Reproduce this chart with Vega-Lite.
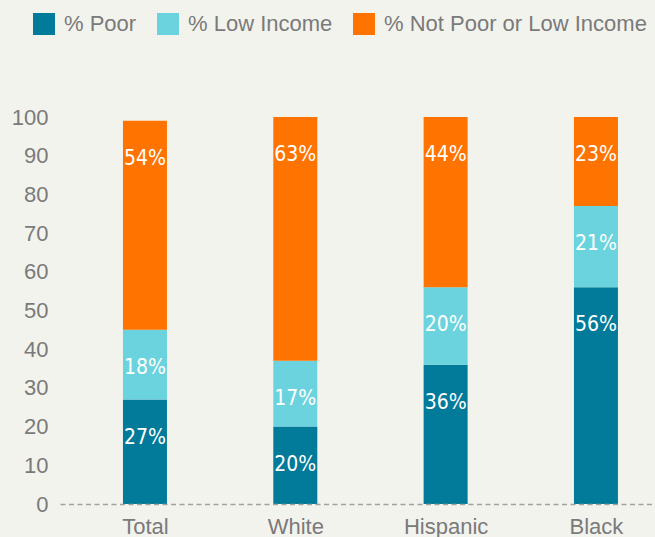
{
  "$schema": "https://vega.github.io/schema/vega-lite/v6.json",
  "width": 595,
  "height": 387,
  "autosize": {"type": "none"},
  "padding": {"left": 60, "top": 117, "right": 0, "bottom": 33},
  "background": "#f3f3ee",
  "config": {"view": {"stroke": null}, "font": "Liberation Sans"},
  "data": {
    "values": [
      {"group": "Total", "category": "% Poor", "value": 27},
      {"group": "Total", "category": "% Low Income", "value": 18},
      {"group": "Total", "category": "% Not Poor or Low Income", "value": 54},
      {"group": "White", "category": "% Poor", "value": 20},
      {"group": "White", "category": "% Low Income", "value": 17},
      {"group": "White", "category": "% Not Poor or Low Income", "value": 63},
      {"group": "Hispanic", "category": "% Poor", "value": 36},
      {"group": "Hispanic", "category": "% Low Income", "value": 20},
      {"group": "Hispanic", "category": "% Not Poor or Low Income", "value": 44},
      {"group": "Black", "category": "% Poor", "value": 56},
      {"group": "Black", "category": "% Low Income", "value": 21},
      {"group": "Black", "category": "% Not Poor or Low Income", "value": 23}
    ]
  },
  "transform": [
    {"calculate": "indexof(['% Poor','% Low Income','% Not Poor or Low Income'], datum.category)", "as": "ord"},
    {"calculate": "datum.value + '%'", "as": "label"},
    {"stack": "value", "groupby": ["group"], "sort": [{"field": "ord", "order": "ascending"}], "as": ["v0", "v1"]}
  ],
  "encoding": {
    "x": {
      "field": "group",
      "type": "nominal",
      "sort": ["Total", "White", "Hispanic", "Black"],
      "scale": {"type": "point", "padding": 0.479, "align": 0.59},
      "axis": {
        "title": null,
        "labelAngle": 0,
        "labelFontSize": 22,
        "labelColor": "#7a7a7a",
        "labelPadding": 12,
        "ticks": false,
        "domainColor": "#a0a0a0",
        "domainWidth": 1.6,
        "domainDash": [5, 3.5],
        "zindex": 1
      }
    },
    "y": {
      "field": "v1",
      "type": "quantitative",
      "scale": {"domain": [0, 100], "nice": false},
      "axis": {
        "title": null,
        "values": [0, 10, 20, 30, 40, 50, 60, 70, 80, 90, 100],
        "labelOverlap": false,
        "labelFontSize": 22,
        "labelColor": "#7a7a7a",
        "labelPadding": 12,
        "ticks": false,
        "domain": false,
        "grid": false
      }
    }
  },
  "layer": [
    {
      "mark": {"type": "bar", "size": 44},
      "encoding": {
        "y2": {"field": "v0"},
        "color": {
          "field": "category",
          "type": "nominal",
          "scale": {
            "domain": ["% Poor", "% Low Income", "% Not Poor or Low Income"],
            "range": ["#027a99", "#6bd3dd", "#ff7400"]
          },
          "legend": {
            "title": null,
            "orient": "none",
            "direction": "horizontal",
            "legendX": -27,
            "legendY": -104,
            "symbolType": "square",
            "symbolSize": 484,
            "symbolStrokeWidth": 0,
            "labelFontSize": 22,
            "labelColor": "#7a7a7a",
            "labelOffset": 9,
            "labelLimit": 0,
            "columnPadding": 20
          }
        }
      }
    },
    {
      "mark": {
        "type": "text",
        "dy": 38,
        "baseline": "middle",
        "align": "center",
        "color": "#ffffff",
        "fontSize": 21,
        "font": "DejaVu Sans Condensed, sans-serif"
      },
      "encoding": {
        "text": {"field": "label"},
        "detail": {"field": "category"}
      }
    }
  ]
}
